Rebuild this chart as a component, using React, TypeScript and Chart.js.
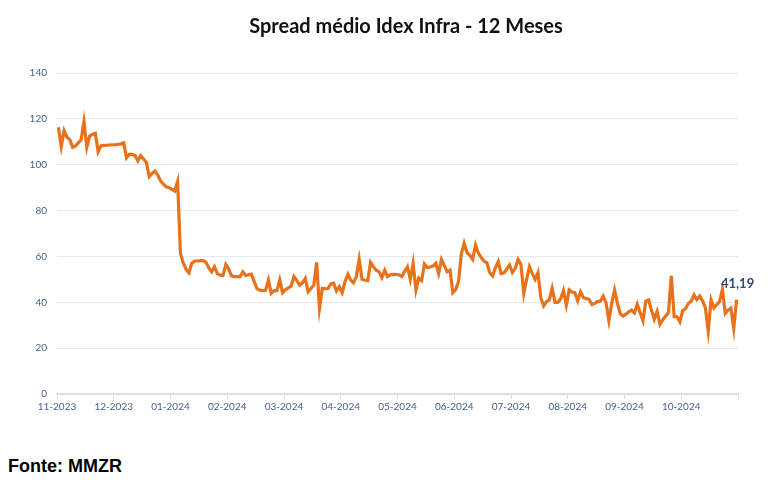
import { useEffect, useRef } from 'react';
import Chart from 'chart.js/auto';
import type { ChartConfiguration, Plugin } from 'chart.js';

const monthLabels = [
  '11-2023', '12-2023', '01-2024', '02-2024', '03-2024', '04-2024',
  '05-2024', '06-2024', '07-2024', '08-2024', '09-2024', '10-2024',
];

// daily spread readings, one array per month
const nov23 = [116.3, 108, 114.8, 112, 111, 107.6, 108.2, 109.5, 110.8, 118.8, 107.6, 112.5, 113.2, 113.7, 105.7, 108.2, 108.4, 108.5, 108.6, 108.7];
const dec23 = [108.7, 108.9, 109.1, 109.5, 103, 104.5, 104.5, 104, 101.7, 104, 102.5, 101, 94.8, 96.2, 97.2, 95.5, 93, 91.5, 90.4, 90];
const jan24 = [89.3, 88.5, 92.6, 61.4, 57, 54.4, 52.9, 57, 58, 58, 58.2, 58.2, 57.4, 55, 53.3, 55.5, 52.5, 51.8, 51.7, 56.5];
const feb24 = [54.5, 51.5, 51.2, 51.2, 51.2, 53.3, 51.7, 52, 52.3, 49, 46, 45.3, 45.1, 45.2, 49.7, 43.9, 45.1, 45.1, 49.7, 44.2];
const mar24 = [45.5, 46.3, 47, 51.2, 49.5, 47.5, 48.5, 50.4, 44.6, 46, 47.5, 57.4, 37.4, 46.1, 45.9, 46, 48, 48.3, 44.9, 46.8];
const apr24 = [44.2, 49, 52.2, 49.7, 48.5, 51.2, 58.7, 50, 49.6, 49.4, 57.4, 55.5, 54, 53.3, 50.7, 54, 51.2, 52, 52.2, 52.2];
const may24 = [52, 51.2, 53.5, 55.5, 50, 57, 45.4, 50.5, 49.4, 56.7, 55.2, 55.4, 55.8, 57, 52.6, 58.7, 56, 53.3, 54, 44.2];
const jun24 = [45.5, 49, 61, 65.7, 61.6, 60.5, 58.7, 65, 61.5, 59.5, 58, 57.2, 53, 51.5, 55, 57.7, 52.5, 52.8, 54.5, 56.3];
const jul24 = [53, 54.8, 58.7, 56.5, 43.9, 50, 55.5, 52.6, 50, 52.9, 42, 38.4, 40.3, 41, 46.1, 40, 40, 41.5, 45.1, 38.8];
const aug24 = [45.4, 44.5, 44.2, 40.7, 44.5, 42, 41.6, 41.3, 39, 39.5, 40.3, 40.5, 42.7, 39.7, 32, 39.6, 45.4, 39.6, 35, 34];
const sep24 = [34.8, 35.9, 36.6, 35.3, 39.1, 35.5, 32, 40.5, 41, 36.6, 32.6, 36, 30.4, 32.4, 34, 35.5, 51.5, 33.7, 33.7, 31.5];
const oct24 = [36.3, 37.2, 39.5, 40.5, 43.2, 41.2, 42.7, 40.7, 37.5, 27.6, 41, 37.5, 38.9, 40.3, 45.6, 35.2, 36.6, 37.5, 28.6, 41.19];

const monthSeries = [nov23, dec23, jan24, feb24, mar24, apr24, may24, jun24, jul24, aug24, sep24, oct24];

const yTicks = [0, 20, 40, 60, 80, 100, 120, 140];

const TITLE = 'Spread médio Idex Infra - 12 Meses';
const LINE_COLOR = '#E8711A';
const TICK_COLOR = '#44618F';

// each point sits inside its month's slot on the x axis
const points = monthSeries.flatMap((vals, m) =>
  vals.map((v, i) => ({ x: m + (i + 0.5) / vals.length, y: v }))
);

const titlePlugin: Plugin = {
  id: 'fixedTitle',
  afterDraw(chart) {
    const { ctx } = chart;
    ctx.save();
    ctx.font = 'bold 20px Lato';
    ctx.fillStyle = '#111';
    ctx.textAlign = 'center';
    ctx.textBaseline = 'middle';
    ctx.fillText(TITLE, 398, 19);
    ctx.restore();
  },
};

const lastLabelPlugin: Plugin = {
  id: 'lastLabel',
  afterDatasetsDraw(chart) {
    const meta = chart.getDatasetMeta(0);
    const last = meta.data[meta.data.length - 1];
    if (!last) return;
    const value = points[points.length - 1].y;
    const { ctx } = chart;
    ctx.save();
    ctx.font = 'bold 13px Lato';
    ctx.fillStyle = '#2E4A7A';
    ctx.textAlign = 'center';
    ctx.textBaseline = 'middle';
    ctx.fillText(value.toFixed(2).replace('.', ','), last.x + 1, last.y - 16);
    ctx.restore();
  },
};

export default function App() {
  const canvasRef = useRef<HTMLCanvasElement>(null);
  const chartRef = useRef<Chart | null>(null);

  useEffect(() => {
    const canvas = canvasRef.current;
    if (!canvas) return;
    if (chartRef.current) {
      chartRef.current.destroy();
      chartRef.current = null;
    }

    const config: ChartConfiguration<'line'> = {
      type: 'line',
      data: {
        datasets: [
          {
            data: points,
            borderColor: LINE_COLOR,
            borderWidth: 3.2,
            pointRadius: 0,
            tension: 0,
            fill: false,
          },
        ],
      },
      options: {
        animation: false,
        responsive: true,
        maintainAspectRatio: false,
        layout: { padding: { top: 65, right: 38, left: 0, bottom: 0 } },
        plugins: {
          legend: { display: false },
          title: { display: false },
          tooltip: { enabled: false },
        },
        scales: {
          x: {
            type: 'linear',
            min: 0,
            max: monthLabels.length,
            afterFit: (scale) => {
              scale.height = 54;
            },
            afterBuildTicks: (scale) => {
              scale.ticks = monthLabels.map((_, i) => ({ value: i })).concat([{ value: monthLabels.length }]);
            },
            grid: {
              drawOnChartArea: false,
              drawTicks: true,
              tickLength: 5,
              color: '#D6DFEE',
            },
            border: { display: true, color: '#D6DFEE', width: 1.5 },
            ticks: {
              autoSkip: false,
              maxRotation: 0,
              padding: 2,
              color: TICK_COLOR,
              font: { family: 'Lato', size: 10 },
              callback: (v) => monthLabels[Number(v)] ?? '',
            },
          },
          y: {
            min: yTicks[0],
            max: yTicks[yTicks.length - 1],
            afterFit: (scale) => {
              scale.width = 49;
            },
            afterBuildTicks: (scale) => {
              scale.ticks = yTicks.map((value) => ({ value }));
            },
            grid: { color: '#E4EAF3', drawTicks: false, lineWidth: 1 },
            border: { display: false },
            ticks: {
              padding: 10,
              color: TICK_COLOR,
              font: { family: 'Lato', size: 10 },
            },
          },
        },
      },
      plugins: [titlePlugin, lastLabelPlugin],
    };

    chartRef.current = new Chart(canvas, config);

    return () => {
      if (chartRef.current) {
        chartRef.current.destroy();
        chartRef.current = null;
      }
    };
  }, []);

  return (
    <div style={{ width: 768 }}>
      <div style={{ height: 440, position: 'relative', width: '100%' }}>
        <canvas ref={canvasRef} />
      </div>
      <div
        style={{
          marginTop: 8,
          fontFamily: '"Liberation Sans", Arial, sans-serif',
          fontWeight: 'bold',
          fontSize: 18,
          color: '#000',
        }}
      >
        Fonte: MMZR
      </div>
    </div>
  );
}
